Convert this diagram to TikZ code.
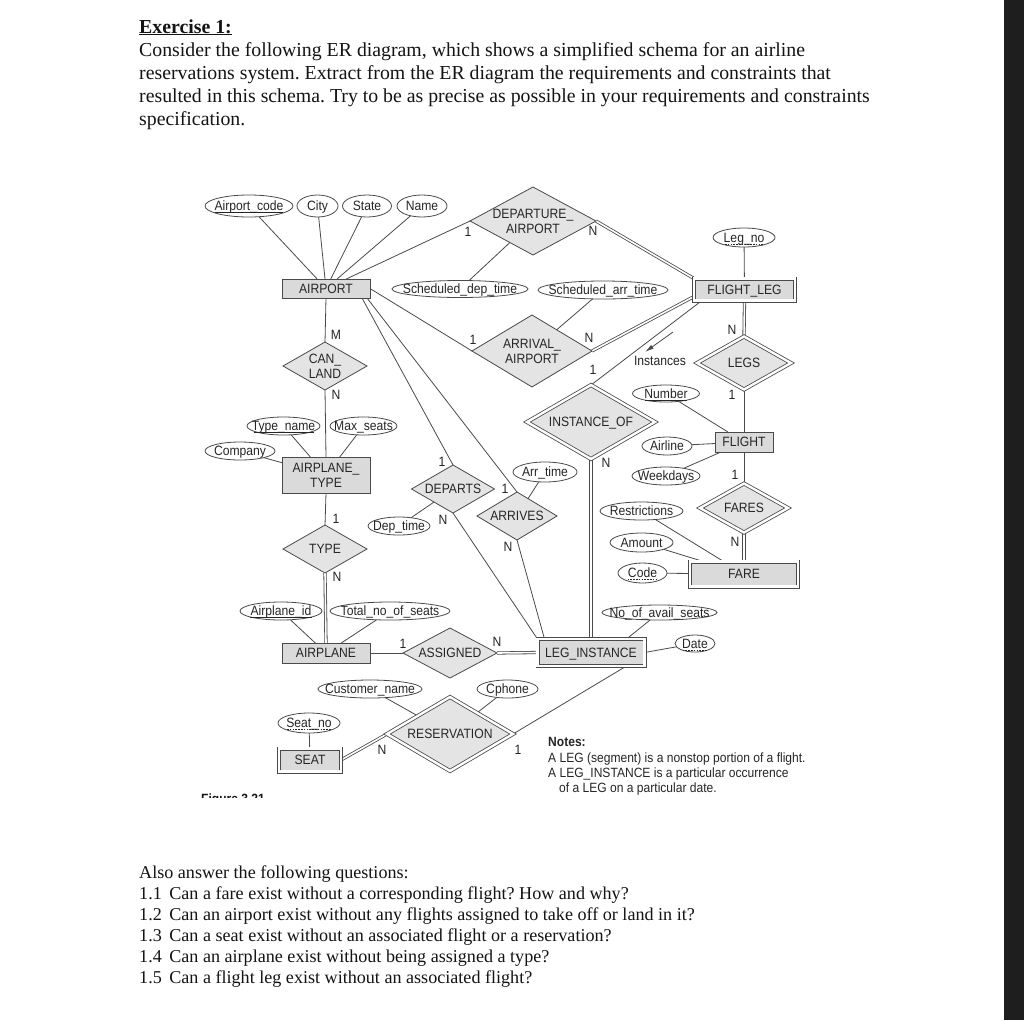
\documentclass[tikz,border=0pt]{standalone}
\usepackage{fontspec}
\setmainfont{Liberation Serif}
\newfontfamily\dfont[FakeStretch=0.9]{Liberation Sans}
\usetikzlibrary{shapes.geometric,arrows.meta}
\definecolor{ln}{HTML}{4A4A4A}
\definecolor{txt}{HTML}{262626}
\definecolor{entf}{HTML}{DADADA}
\definecolor{relf}{HTML}{E4E4E4}
\definecolor{strip}{HTML}{1E1E1F}
\definecolor{hd}{HTML}{141414}
\pgfdeclarelayer{bgpage}
\pgfdeclarelayer{bgline}
\pgfsetlayers{bgpage,bgline,main}
\frenchspacing
\newcommand\lb[1]{\raisebox{-4.8pt}[0pt][0pt]{\makebox[0pt]{#1}}}
\newcommand\lbb[2]{\makebox[0pt]{\raisebox{3.0pt}[0pt][0pt]{\makebox[0pt]{#1}}}\makebox[0pt]{\raisebox{-12.5pt}[0pt][0pt]{\makebox[0pt]{#2}}}}
\tikzset{
  base/.style={inner sep=0pt, outer sep=0pt, text=txt, font=\dfont\fontsize{13.5}{15}\selectfont},
  ent/.style={base, rectangle, draw=ln, fill=entf, line width=0.8pt},
  went/.style={ent, double=white, double distance=2.4pt},
  rel/.style={base, diamond, draw=ln, fill=relf, line width=0.8pt},
  wrel/.style={rel, double=white, double distance=2.4pt},
  attr/.style={base, ellipse, draw=ln, fill=white, line width=0.8pt},
  card/.style={base},
  con/.style={draw=ln, line width=0.8pt},
  dcon/.style={con, double=white, double distance=1.6pt},
  ul/.style={draw=txt, line width=0.6pt},
  dul/.style={ul, dash pattern=on 1.6pt off 1.2pt},
  hdtxt/.style={inner sep=0pt, anchor=base west, text=hd, font=\fontsize{19.8}{24}\selectfont},
  qtxt/.style={inner sep=0pt, anchor=base west, text=hd, font=\fontsize{18.1}{21}\selectfont},
  notetxt/.style={inner sep=0pt, anchor=base west, text=txt, font=\dfont\fontsize{13.4}{15}\selectfont}
}
\begin{document}
\begin{tikzpicture}[x=1pt,y=-1pt]
\useasboundingbox (0,0) rectangle (1024,1020);
\begin{pgfonlayer}{bgpage}
\fill[white] (0,0) rectangle (1024,1020);
\fill[strip] (1004,0) rectangle (1024,1020);
\end{pgfonlayer}

% header
\node[hdtxt] (h1) at (139,33) {\underline{\textbf{Exercise 1:}}};
\node[hdtxt] (h2) at (139,56) {Consider the following ER diagram, which shows a simplified schema for an airline};
\node[hdtxt] (h3) at (139,79) {reservations system. Extract from the ER diagram the requirements and constraints that};
\node[hdtxt] (h4) at (139,102) {resulted in this schema. Try to be as precise as possible in your requirements and constraints};
\node[hdtxt] (h5) at (139,125) {specification.};

% questions
\node[qtxt] (q0) at (139,878) {Also answer the following questions:};
\node[qtxt] (q1) at (139,899) {1.1\ \,Can a fare exist without a corresponding flight? How and why?};
\node[qtxt] (q2) at (139,920) {1.2\ \,Can an airport exist without any flights assigned to take off or land in it?};
\node[qtxt] (q3) at (139,941) {1.3\ \,Can a seat exist without an associated flight or a reservation?};
\node[qtxt] (q4) at (139,962) {1.4\ \,Can an airplane exist without being assigned a type?};
\node[qtxt] (q5) at (139,983) {1.5\ \,Can a flight leg exist without an associated flight?};

% entities
\node[ent, minimum width=88, minimum height=19] (airport) at (326,288.5) {\lb{AIRPORT}};
\node[ent, minimum width=88, minimum height=36] (airplanetype) at (326,475) {\lbb{AIRPLANE\_}{TYPE}};
\node[ent, minimum width=88, minimum height=20] (airplane) at (326,653) {\lb{AIRPLANE}};
\node[went, minimum width=101, minimum height=22] (flightleg) at (744.5,289.5) {\lb{FLIGHT\_LEG}};
\node[ent, minimum width=58, minimum height=20] (flight) at (744,442) {\lb{FLIGHT}};
\node[went, minimum width=108, minimum height=25] (fare) at (744,574) {\lb{FARE}};
\node[went, minimum width=107, minimum height=27] (leginst) at (591,652.5) {\lb{LEG\_INSTANCE}};
\node[went, minimum width=62, minimum height=23] (seat) at (310,760) {\lb{SEAT}};

% relationships
\node[rel, minimum width=126, minimum height=68] (depap) at (533,221) {\lbb{DEPARTURE\_}{AIRPORT}};
\node[rel, minimum width=120, minimum height=72] (arrap) at (532,351) {\lbb{ARRIVAL\_}{AIRPORT}};
\node[rel, minimum width=84, minimum height=48] (canland) at (325,366) {\lbb{CAN\_}{LAND}};
\node[rel, minimum width=84, minimum height=48] (type) at (325,549) {\lb{TYPE}};
\node[rel, minimum width=83, minimum height=48] (departs) at (453,489) {\lb{DEPARTS}};
\node[rel, minimum width=80, minimum height=48] (arrives) at (517,516) {\lb{ARRIVES}};
\node[wrel, minimum width=128, minimum height=74] (instof) at (591,422) {\lb{INSTANCE\_OF}};
\node[wrel, minimum width=94, minimum height=53] (legs) at (744,363) {\lb{LEGS}};
\node[wrel, minimum width=88, minimum height=49] (fares) at (744,508) {\lb{FARES}};
\node[rel, minimum width=94, minimum height=50] (assigned) at (450,653) {\lb{ASSIGNED}};
\node[wrel, minimum width=126, minimum height=74] (reservation) at (450,734) {\lb{RESERVATION}};

% attributes
\node[attr, minimum width=88, minimum height=22] (aircode) at (249,206) {\lb{Airport\_code}};
\node[attr, minimum width=41, minimum height=22] (city) at (317.5,206) {\lb{City}};
\node[attr, minimum width=49, minimum height=22] (state) at (367,206) {\lb{State}};
\node[attr, minimum width=50, minimum height=22] (name) at (422,206) {\lb{Name}};
\node[attr, minimum width=62, minimum height=19] (legno) at (744,237.5) {\lb{Leg\_no}};
\node[attr, minimum width=136, minimum height=17] (schdep) at (460,289) {\lb{Scheduled\_dep\_time}};
\node[attr, minimum width=130, minimum height=18] (scharr) at (603,290) {\lb{Scheduled\_arr\_time}};
\node[attr, minimum width=67, minimum height=17] (number) at (666,393.5) {\lb{Number}};
\node[attr, minimum width=50, minimum height=18] (airline) at (667,446) {\lb{Airline}};
\node[attr, minimum width=68, minimum height=18] (weekdays) at (666,476) {\lb{Weekdays}};
\node[attr, minimum width=73, minimum height=18] (typename) at (283.5,426) {\lb{Type\_name}};
\node[attr, minimum width=67, minimum height=18] (maxseats) at (363.5,426) {\lb{Max\_seats}};
\node[attr, minimum width=70, minimum height=18] (company) at (240,451) {\lb{Company}};
\node[attr, minimum width=62, minimum height=18] (deptime) at (399,526) {\lb{Dep\_time}};
\node[attr, minimum width=64, minimum height=20] (arrtime) at (545,472) {\lb{Arr\_time}};
\node[attr, minimum width=83, minimum height=18] (restrictions) at (641.5,511) {\lb{Restrictions}};
\node[attr, minimum width=63, minimum height=19] (amount) at (641.5,542.5) {\lb{Amount}};
\node[attr, minimum width=49, minimum height=20] (code) at (642.5,573) {\lb{Code}};
\node[attr, minimum width=115, minimum height=15] (noseats) at (659.5,612.5) {\lb{No\_of\_avail\_seats}};
\node[attr, minimum width=40, minimum height=17] (date) at (695,643.5) {\lb{Date}};
\node[attr, minimum width=82, minimum height=18] (airplaneid) at (281,611) {\lb{Airplane\_id}};
\node[attr, minimum width=120, minimum height=18] (totalseats) at (390,611) {\lb{Total\_no\_of\_seats}};
\node[attr, minimum width=104, minimum height=18] (custname) at (370,689) {\lb{Customer\_name}};
\node[attr, minimum width=61, minimum height=18] (cphone) at (507.5,689) {\lb{Cphone}};
\node[attr, minimum width=62, minimum height=20] (seatno) at (309,723) {\lb{Seat\_no}};

% key underlines
\draw[ul] ([xshift=-34pt,yshift=-6.5pt]aircode.center) -- ([xshift=34pt,yshift=-6.5pt]aircode.center);
\draw[ul] ([xshift=-21pt,yshift=-6.5pt]number.center) -- ([xshift=21pt,yshift=-6.5pt]number.center);
\draw[ul] ([xshift=-30pt,yshift=-6.5pt]typename.center) -- ([xshift=30pt,yshift=-6.5pt]typename.center);
\draw[ul] ([xshift=-31pt,yshift=-6.5pt]airplaneid.center) -- ([xshift=31pt,yshift=-6.5pt]airplaneid.center);
\draw[dul] ([xshift=-19pt,yshift=-6.5pt]legno.center) -- ([xshift=19pt,yshift=-6.5pt]legno.center);
\draw[dul] ([xshift=-15pt,yshift=-6.5pt]code.center) -- ([xshift=15pt,yshift=-6.5pt]code.center);
\draw[dul] ([xshift=-22pt,yshift=-6.5pt]seatno.center) -- ([xshift=22pt,yshift=-6.5pt]seatno.center);
\draw[dul] ([xshift=-12.5pt,yshift=-6.5pt]date.center) -- ([xshift=12.5pt,yshift=-6.5pt]date.center);

% cardinalities
\node[card] (k1) at (468,232) {\lb{1}};
\node[card] (k2) at (593,231) {\lb{N}};
\node[card] (k3) at (473,340) {\lb{1}};
\node[card] (k4) at (589,338) {\lb{N}};
\node[card] (k5) at (336,335) {\lb{M}};
\node[card] (k6) at (336,395) {\lb{N}};
\node[card] (k7) at (336,519) {\lb{1}};
\node[card] (k8) at (337,577) {\lb{N}};
\node[card] (k9) at (442,462) {\lb{1}};
\node[card] (k10) at (443,520) {\lb{N}};
\node[card] (k11) at (505,489) {\lb{1}};
\node[card] (k12) at (508,547) {\lb{N}};
\node[card] (k13) at (593,370) {\lb{1}};
\node[card] (k14) at (606,463) {\lb{N}};
\node[card] (k15) at (732,330) {\lb{N}};
\node[card] (k16) at (732,395) {\lb{1}};
\node[card] (k17) at (735,475) {\lb{1}};
\node[card] (k18) at (735,542) {\lb{N}};
\node[card] (k19) at (403,644) {\lb{1}};
\node[card] (k20) at (497,642) {\lb{N}};
\node[card] (k21) at (382,750) {\lb{N}};
\node[card] (k22) at (518,750) {\lb{1}};

% instances annotation
\node[card] (inst) at (660,361) {\lb{Instances}};
\coordinate (ia) at (673,332);
\coordinate (ib) at (645,352);
\draw[con, -{Latex[length=9pt,width=4.5pt]}] (ia) -- (ib);

% notes
\node[notetxt] (n0) at (548,746) {\bfseries Notes:};
\node[notetxt] (n1) at (548,762) {A LEG (segment) is a nonstop portion of a flight.};
\node[notetxt] (n2) at (548,777) {A LEG\_INSTANCE is a particular occurrence};
\node[notetxt] (n3) at (559,792) {of a LEG on a particular date.};

% clipped figure caption
\begin{scope}
\clip (195,788) rectangle (300,797);
\node[notetxt, text=hd] (fig) at (201,803) {\bfseries Figure 3.21};
\end{scope}

\begin{pgfonlayer}{bgline}
\draw[con] (aircode) -- (airport);
\draw[con] (city) -- (airport);
\draw[con] (state) -- (airport);
\draw[con] (name) -- (airport);
\draw[con] (airport) -- (depap.west);
\draw[con] (schdep) -- (depap);
\draw[dcon] (depap.east) -- (flightleg.north west);
\draw[con] (legno) -- (flightleg);
\draw[con] (airport.east) -- (arrap.west);
\draw[con] (scharr) -- (arrap);
\draw[dcon] (arrap.east) -- ([yshift=4pt]flightleg.south west);
\draw[con] (instof.north) -- ([xshift=8pt]flightleg.south west);
\draw[con] (airport.south) -- (canland.north);
\draw[con] (canland.south) -- (airplanetype.north);
\draw[con] (typename) -- (airplanetype);
\draw[con] (maxseats) -- (airplanetype);
\draw[con] (company) -- (airplanetype);
\draw[con] (airplanetype.south) -- (type.north);
\draw[dcon] (type.south) -- (airplane.north);
\draw[con] (airplaneid) -- (airplane);
\draw[con] (totalseats) -- (airplane);
\draw[con] (airplane.east) -- (assigned.west);
\draw[dcon] (assigned.east) -- (leginst.west);
\draw[con] ([xshift=-8pt]airport.south east) -- (departs.north);
\draw[con] ([xshift=-3pt]airport.south east) -- (arrives.north);
\draw[con] (deptime) -- (departs);
\draw[con] (arrtime) -- (arrives);
\draw[con] (departs.south) -- (leginst.north west);
\draw[con] (arrives.south) -- ([xshift=7pt]leginst.north west);
\draw[dcon] (instof.south) -- (leginst.north);
\draw[dcon] (flightleg.south) -- (legs.north);
\draw[con] (legs.south) -- (flight.north);
\draw[con] (number) -- (flight);
\draw[con] (airline) -- (flight);
\draw[con] (weekdays) -- (flight);
\draw[con] (flight.south) -- (fares.north);
\draw[dcon] (fares.south) -- (fare.north);
\draw[con] (restrictions) -- (fare);
\draw[con] (amount) -- (fare);
\draw[con] (code) -- (fare);
\draw[con] (noseats) -- ([xshift=-18pt]leginst.north east);
\draw[con] (date) -- (leginst.east);
\draw[con] ([xshift=-18pt]leginst.south east) -- (reservation.east);
\draw[con] (custname) -- (reservation);
\draw[con] (cphone) -- (reservation);
\draw[con] (seatno) -- (seat);
\draw[dcon] (seat.east) -- (reservation.west);
\end{pgfonlayer}
\end{tikzpicture}
\end{document}
